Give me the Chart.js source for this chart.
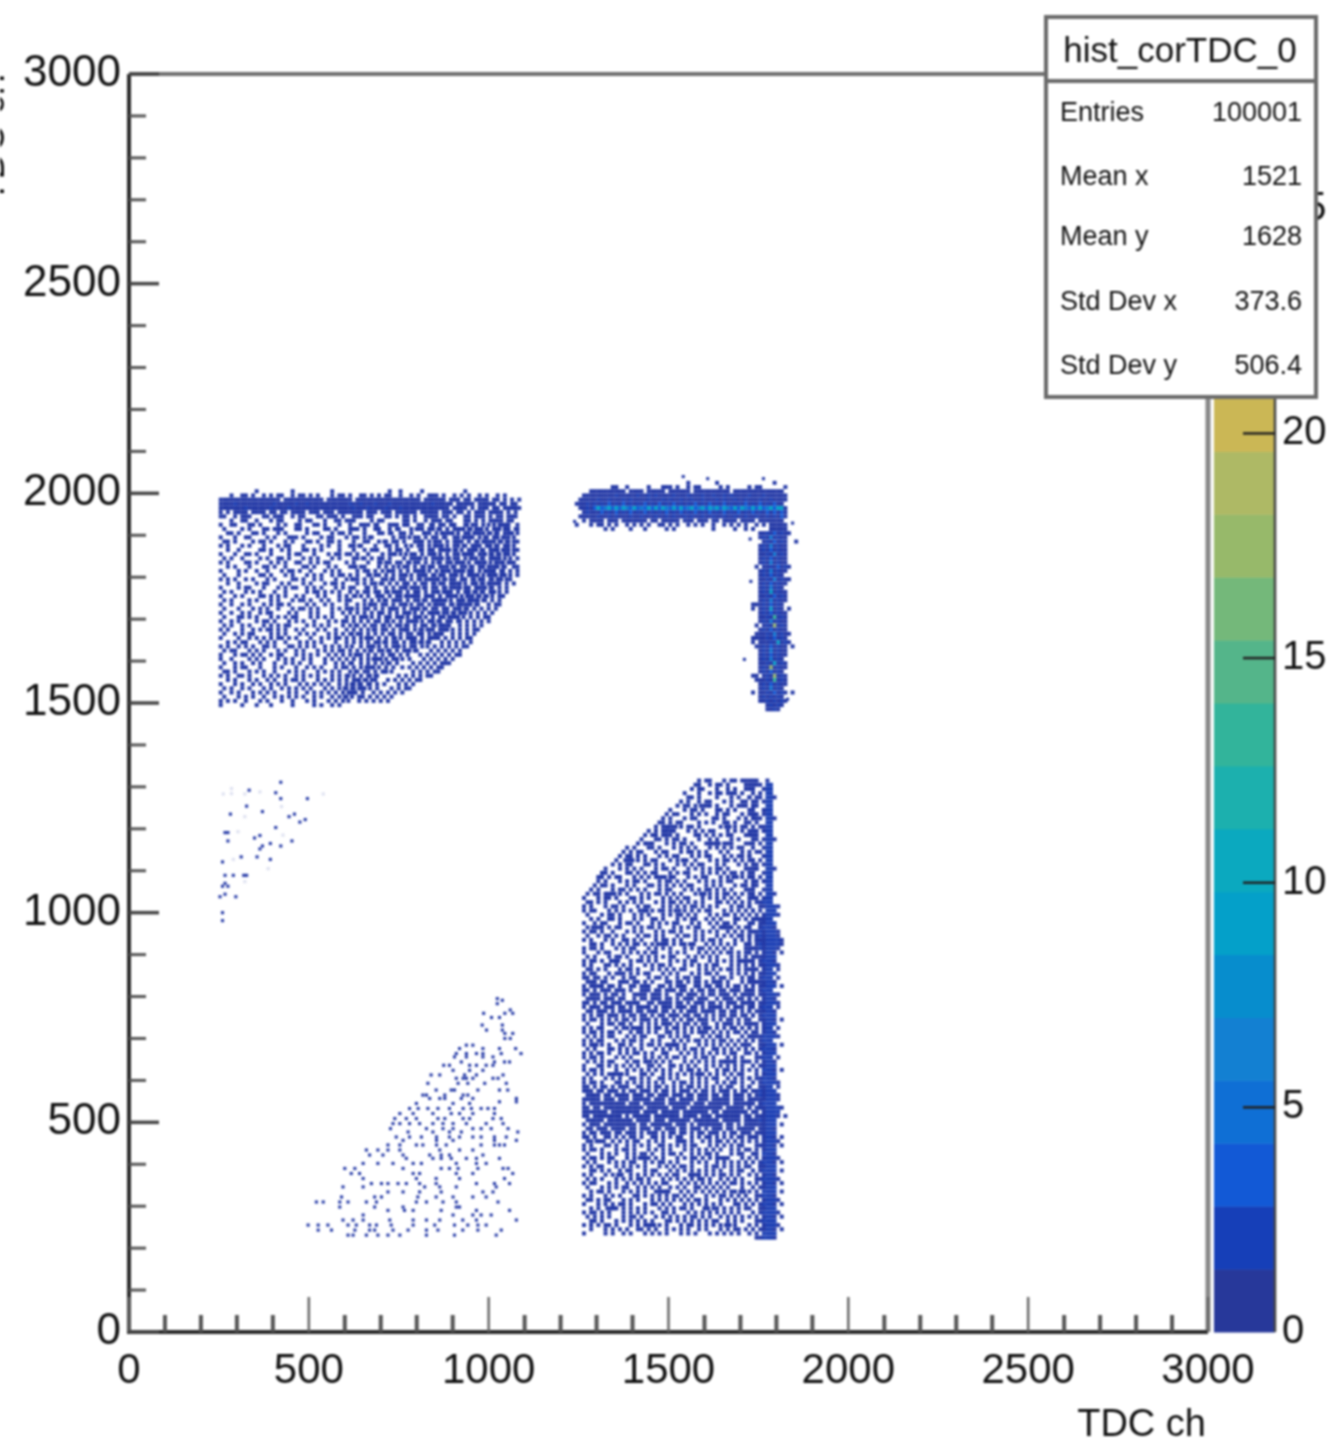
<!DOCTYPE html>
<html><head><meta charset="utf-8">
<style>html,body{margin:0;padding:0;background:#fff}canvas{display:block;filter:blur(1.1px)}</style>
<script src="https://cdn.jsdelivr.net/npm/chart.js@4"></script></head>
<body><canvas id="c" width="1339" height="1442"></canvas>
<script>
const axisMajorTicks=[0,500,1000,1500,2000,2500,3000];
const axisMinorTicks=[100,200,300,400,600,700,800,900,1100,1200,1300,1400,1600,1700,1800,1900,2100,2200,2300,2400,2600,2700,2800,2900];
const zTicks=[0,5,10,15,20,25];
const zStep=1.4;
const zPalette=['#27389a','#163fb8','#1259d6','#0f6fd5','#1380d2','#078dcd','#04a0c9','#0ba9bf','#1cb0ae','#32b49b','#54b58a','#74b87a','#97b96a','#aeb965','#cbb755','#e2b848','#f0c03c','#f5cf30','#f6e028','#f9f50f'];
const statsTitle='hist_corTDC_0';
const statsNames=['Entries','Mean x','Mean y','Std Dev x','Std Dev y'];
const statsValues=['100001','1521','1628','373.6','506.4'];
const binSize=10;

// histogram cells: each character is one 10x10 bin ('.' empty, '#' low, digits higher)
const upperLeftOrigin=[255,2005];
const upperLeftMask=[
"..........#.........#..........#...............#..#.....#...........#.........",
"...#..##.#..#.#.##..#.##.#.#...#.##.#..##.#.#.##..#..#.#..###.#..#.#.#..#.#..#.#",
"#################.###########.#######.##################.######.###.##.####.##.#.#.#",
"####2##########2#####2##2###########2##2###2###2###########2#####.#####.#####.##.##",
"#######2######2####2#################2###2####2###2#############.####.#.###.##.#####",
"#.#.####.####.##.##.####.###.###.#######.###.###.######.#####.###.##.#.###.####.#.#",
"##..#.###...##.###..#.##...##.###.#..###.##...##.#.##.#..####.##.#..##.###.#.##.###",
"...#..##..#...#.##....#.##...#..##.###....#.##.....##.#..#.###.##...##.#.#.####.##",
"#..##...##.#....#.#..##...##.#...#..#..###.#...###.##..##..#.##.##..#.##.#..#.###",
".#....#.#...##.###...##.#....##.#...###.#..##..#.#...#.##.##.#.#.###.#.##.#.##.##.#",
"..##.#...##.#...#.#.....#.##...#.##.#...#...##.#..##.#...##.#.###.#.##.###.#.#.###",
"#...#..##....#.#...###.#....#.##...#.##.#.#.....#.##..##.#.##.#..##.###.#.#.##.##",
".##.#....#.##.#...#.#...##.#..##.#...#..##..#.#.##.#..###.#.##.#.###.#.#.####.#.#",
"#.#...#.#...#...#.##...#....#.#..#..##.#...#..##.#...#.##.#.##.#.##.#.###.##.#.##.",
"..#..#.....##.#..#.#...##.#.#....#...#..#.##...#.##.#...#.##.###.#.#.###.#.###.##",
"#...#..##.#...#....#.##...#...#.##.##.#..#...#.##.#..##.#.##.#.#.##.###.##.#.#.##",
".#.#..#....#.#..##.#...#.#.#...#.#...##.#.#.##.#...#.###.#.###.#.##.#.##.#.###.#",
"#.#....##.#...#.#.#..##..#.#.##....#.#...#..#.##.##.#.##.#.#.#.##.##.#.###.#.##.#",
"..#.#...#...##.#..#....##.#...#.#...##.##...#.#.#..##.#.#.##.###.#.##.#.##.###.#",
"#....#.#..#..#...#.##.#..#...#.#.#....#.##.#.#.##.#.#.###.#.#.##.###.##.#.###.#",
".#...#.....##.#...#.#...#.#.#..#.##.#.#..#.##.#.#.##.#.###.#.##.##.#.###.#.##.##",
"#.#.#..#.#...#.#....##.#..#.#...#..#.##.#.#..##.#.##.#.#.####.#.##.##.#.##.#.##",
"..#..#....#.##...#.#...#.#...#.##.#...#.#.##.#.#.#.##.#.##.#.##.###.#.##.#.###",
"#....#.##...#...#.#.##..#.#.#...#.#.##...#.#..#.#.##.###.#.##.#.###.##.###.#",
".#.#...#.#.#...#..#.....#.##.#.#.#..#.#.##.##.#.###.#.##.#.##.###.#.##.#.#.##",
"#...#.#....##.#.#.#..#.#...#.#...#.#.#.#.#..##.#.##.####.###.#.###.#.##.#.#",
".#.#....#.#...#.#...#.##.#..#.#..#.##...#.#.#.#.###.#.##.#.####.#.##.###.#",
"#..#..#.#...#.#.##.#....#.#..#.#...#..#.#.##.##.#.##.#.##.#.###.#.####.#",
".#...#...#.#.#..#...#.##.#.#...#.#.##.#.##.#.#.###.#.###.#.##.##.##.#",
"#..#..#.#..#.##....#.#...#.#...#..#.#.#.#.#.##.#.#.##.#.#.###.##.#.##",
".#...##.#.#...#.#.#.##...#.#.#.#...#.#.##.#.#.##.##.#.##.#.#.##.###",
"#..#.#....#.##.#...#.#.#..#...#.#.##.#.#.#.##.#.#.#.###.#.##.#.##.#",
".#.#..#.#...#.#.#.##....#.#.#.#...#.#.#.#.##.#.#.##.#.#.##.#.###",
"#.#...#..#.#.##.#.#..#.#...#.#..#..#.#.#.#.#.##.#.###.#.#.##.###",
".#..#.#.##....#.#.#...#.#.#...#.#.#.#.##.#.#.#.##.#.##.##.#.##",
"#....#..#.#.#.#.##.#.#...#..#.#.##.#.#.#.##.#.#.#.#.###.#.###",
"..#.#.##...#.#.#..#...#.#.#.#...#..#.#.#.#.##.#.##.#.##.#.#",
"#.#..#.#.#..##.#...##.#.#.#..#.#.#.#...#.##.#.#.##.#.##.#",
".#.##...#.#.#...#.#..#.#...#.#.#.##.#.#.#.#.##.#.#.##.#",
"#...#.##.#.#..#.##...#.#.#.#..#.#.#.#.##.#.#.#.##.#.#",
"#..#....#.#.#...#.#.#..#.#...#.#.#.#.#.#.#.##.#.##.",
".#..#.#..#.#...#..#.#.#..#...#..#.#.#..#.#.#.#.#.#",
"#...#.##...#...#.#...#..#.#.#...#.##.#.#.##.#.#.#",
".##.#...#.#.#..#...#.#.#...#.#.#.#..#.#.##.#.##",
"#.#..##.#...#.#.#.#..#.#.#.#...#.#.#.#.#.#.#.",
"..#.#...#.#..#.#..#.##.#...#.#.#.#.#.##.#.##",
"#...#.#..#.#..#.#.#...#.#.#.#.#..#.#.#.#.#",
".#.#..#.#...#.#..#.#.#.#.#...#.#.#.#.#.##",
"#..#.#...#.#.#.#...#.#..#.#.#.#.#.#.##.",
".#...#.#.#..#..#.#.#.#.#..#.#..#.#.#.",
"#.#.#..#...#.#...#..#...#.#...#.#.#",
"#.....#...#...#.....#.....#.#..#.#"];

// extra cells of the denser right-hand part of the upper-left block, from x=600, y=1925
const upperLeftEdgeOrigin=[600,1925];
const upperLeftEdgeMask=[
".........#.......#......#.....#...#.....#..#.#..#",
"...#...........#....#.....#......#.#..#....#.#..#",
".............#........#....#..#.....#...#.#...#.#",
".......#..........#.........#....#.#...#..#.#..#.",
"...........#.........#...#.....#.....#.#...#.#.##",
"....#............#.......#.#.....#..#...#.#..#.#.",
".........#...........#.......#.#....#.#...#.#..##",
"..............#..#.......#.......#.#...#.#.#.#.#.",
".....#...............#.....#.#.....#..#..#.#..#.#",
"..........#.......#.......#....#.#...#.#..#.#.##.",
"...#...........#......#.#.....#....#..#.#.#.#..##",
"............#.........#....#.#...#.#...#.#..#.#.#",
".......#.........#.......#.....#...#.#..#.#.#.#.#",
"..#..........#.......#....#.#....#..#.#..#.#.##",
"..........#......#.......#....#.#...#.#.#..#.#.#",
"......#..........#....#.....#...#.#..#.#.#.#.#",
"............#.......#.....#.#.....#.#.#..#.#.#",
"...#.....#.......#.....#.....#.#..#..#.#.#.##",
"...........#..........#...#.#....#.#.#.#.#.#",
".......#.........#.......#....#.#..#.#..#.##",
"..#..........#......#.#.....#...#.#.#.#.#.#",
"..........#.......#.....#.#...#.#..#.#.#.#",
"......#.........#....#.......#.#.#.#.#.##",
"............#.......#...#.#.....#.#.#.#.#",
"...#.......#.....#.......#.#.#..#.#.#.#",
"........#........#...#.#....#.#.#.#.##",
"..#..........#.......#...#.#..#.#.#.#.",
"......#.......#...#.....#.#.#.#.#.##",
"...........#.......#.#.#...#.#.#.#.#",
"..#.....#......#.......#.#.#.#.#.##",
".......#....#.....#.#...#.#.#.#.#.",
"...#.........#.......#.#.#.#.#.##",
"........#.#.....#.#...#.#.#.#.#",
"..#.........#......#.#.#.#.###",
"......#.#.......#.#.#.#.#.##",
"...#.......#.#.....#.#.#.##",
".#.....#.#.....#.#.#.#.##",
"....#.#.....#.#.#.#.##",
"..#.#..#.#.#...#.#.#",
"#.#.##.#.#...#.#.##",
".#.#.#..#.#.#.#.#",
"#.#.##.#.#.#.#",
".#..#.#.#.#.#"];

const cornerHorizontalOrigin=[1245,2025];
const cornerHorizontalMask=[
"...............................#.......#...............#...",
"..........##..#.....#...###.#..#.##.....#.#.....#.##......#",
"....##########.####.#####.######.##########.##############.",
"..#########2#####2##2#2####2###2###2##2##2#2####2###2######",
".#####2##2###2#2####2###2#2##2##2##2###2#2##2##2###2##2####",
"###2#2#2#3#2#3#2#2#3#2#3#2#3#2#2#3#2#3#2#3#2#2#3#2#3#2#3##",
".##2#35345353543534353535435353453453545354353543535345355#",
"..#2###3#2#3#2#3#2#3#2#2#3#2#3#2#3#2#3#2#3#2#3#2#3#2#3#3#3#",
".#####2##2#2###2##2###2##2#2##2#2##2##2##2##2##2##2##2#2#3#",
"..#.####.###.#######.##.#####.###.###.##.####.####.#######",
"#...#.##.#.#..#.#.#.#..##.#.#..#.#.#..#..#.#.#.#..#.#.#####",
"........#.#....#...#.....#.#..........#.....#..#.#....#####"];
const cornerVerticalOrigin=[1735,1905];
const cornerVerticalMask=[
"..##2#3#2##.",
"..#2#4#2##.",
"...#2#3#2#..#",
"..#2#4#2##",
"..#2#3#2##.",
"..##2#4#2#",
"..#2#3#2##.",
"..#2#4#2##",
".#.##2#3#2#.",
"..#2#4#2##.",
"..#2#3#2#..",
"..##2#4#2##",
"..#2#3#2##.",
"..#2#4#2#..",
"..#2#5#2##.",
"..##2#3#2#.",
"..#2#4#2##.",
"###2#3#2#..",
"#.#2#5#2#.#",
"..#2#3#2##.",
"..##2#6#2#.",
"..#2#4#2##.",
".#.#2#7#2#.",
"..#2#3#2##.",
".###2#4#2##",
"####2#3#2#.",
"#.###2#5#2#.",
".##2#3#2##.#",
"..#2#4#2##.",
"..#2#3#2##.",
"..#2#4#2#..",
"..##2#5#2#.",
"..#2#7#2##.",
"..#2#3#2#..",
"##.#2#7#2#.",
".###2#6#2#.",
"..#2#3#2##.",
"..#2#4#2#..",
"#.##2#3#2#.#",
"..#2#2#2#..",
"..##2#2#2#.",
"....#2#2#.",
"....##2#.."];

const lowerRightOrigin=[1265,1315];
const lowerRightMask=[
"................................#.##...#.##.##.#",
"...............................##..#.##.#....###",
"..............................#.##...#..#.#..#.#",
"............................#...#..#.##.###.#...",
".............................##.#....#...#.#..#.#",
"...........................#.#..#.##...#.#..##.#.",
"..........................#.##.#...#.#...#.###.#.",
"........................#...#.##.#...##.#.#....#.",
".......................#.##...#.#.#..#.##...#.##.",
"......................#.#...#.##....##.#...#.#.##",
".....................##.#.##....#.#.#..##.#..#...",
"....................#.##...#.##.#.....#.#.#.##.#",
"..................#.#.####...#.#.#.##...#.#.#.#.#",
".................#.##.###.#....##.#.#.#.##...###.",
"................#...##.#.##.#...#..#.#...#.#...#.",
"...............#.#.#...#.#.##.#...##.#.###...#.#",
"............#.#...##.#...#.#.#.#...#.#.#.#.##...",
"...........#.#.##...#.##...#.##.#.#...#.#...#.#",
"..........#.##.#.#...#.#.##...#.#.##...#.#.##.#.",
".........#...#.#.#.##...#.#.#..#...#.#.##.#.#.##",
"........#.#.##...##.#.#...#.#.#.##...#.#...#.#.#",
"......#...#.#.#.#...#.##.#...#.#.#.#.##.#....#.##",
".....##.#...##.#.#.##...#.#.##...#.#.#.#.##.#.#.",
"....##.#.##...#.#.#.#.#.##...#.#.##...#.#.#.#.##",
"....#.#...#.#.##.#...#.##.#.#...#.#.#.#.##...#.#.",
"...#.##.#...#.#...##.#.#.#.#.##...#.#.#...#.##.#.",
"..#.#...#.##.#.#.#...#.##...#.#.#.##.#.#.#...#.#.",
".#.##.#...#.#...#.#.##.#.#.#...#.#.#.#.##.#.#.##",
"#...#.##.#...##.#.#...#.#.#.##...#.#.#.#.#.#...#",
".##.#.#...#.#.#.#...#.#.##.#.#.#.#...##.#.#.#.#.",
"#.#...#.##.#...#.##...#.#.#.#.##.#.#.#...#.##.#.",
"#.##...#.#.#.#...#.#.##.#...#.#.#.##...#.#.#.#.#",
".#...#.##.#...#.#.#...#.#.##.#.#...#.#.##.#.#...",
"..#.#..##.#...#.#..##.#...#.#.##..#.#.#...##.#.#",
"#..#.##...#.##.#...#.#.#.##...#.#..#.#.##.#...#.",
".#...#.#.##...#.#.##.#...#.#.#.##...#.##.#.#.##",
"#.##.#..#...#.#.#...#.#.##.#...#.#.#.#..#.#.#.#.",
".#..#.##.#.#...#.##.#.#...#.##.#.#...#.#.#.##.#",
"#.#...#.#..##.#.#...#.##.#.#...#.#.##.#...#.#.#",
"..##.#..#.#.#.##.#.#...#.#.##.#...#.#.#.#.#..##.",
"#.##.#...#.#.##...#.#.#.#...#.#.##.#.#.#.#...##",
"#...#.##...#.#.#.#.##...#.#.#...#.#.#.#.##.#.##.",
".#.#...#.##.#...#.#.#.#.##...#.#.#.#.#...#.#.#.#",
"#.##.#...#...#.##.#.#...#.#.#.##...#.#.#.#.#.##",
"#.#...##.#.#.#...#.#.##.#...#.#.#.#.##...#.#.#.#",
".##.#.#...#.##.#...#.#.#.#.##...#.#.#.#.##.#.#.#",
"#.##...#.###.#.#.##...#.#.#...#.#.##.#...#.#.#.#",
"##.##.#.#..#.##...#.##.#..#.##.##...#.##.#..#.##",
".###.##...###.##.#.#...##.##.#.##.#.###.#...#.###",
"#.####.##.#..##.###..##.#.###..##.##.##.#.##.#.#",
"##.#.###.###.#..###.##.###.##.#.##.##.##.###.##.",
"#.###.#.##.#..####.###.#..##.###.#.##.###.#.###.",
".####.###.##..#.##.###.##.#.###.###..#.###.##.#",
"##.#.##.###.####..##.####.##.#.###.##.#.###.##.#",
"#.###.###.##.#.####.#.###.###.##.#.####.#.###.##",
".##.###.#.####.##.###.##.#.#.###.####.##.##.#.#",
"#.#.##.###.#.##.##.#.##.###.##.##.#.#.##.##.##.#",
"#.##.#.#.#.##.#.###.#.##.#.#.##.###.#.#.##.#.#.",
".#...#.##.##.#..#.#.#.###.#.##.#.##..#.###.#.##.",
"#.#.##...#.##.#.#.#.##.#.##.#.#.#.##.#.#.##.#.#",
"#.##.#.##.#..#.##.#.#..##.#.#.#.###.#.#.#.##.#.#",
".#.#.#.##...#.#.##...##.#.#.##...#.#.##.#...#.##",
"#.#.##...#.#.##.#..#.#...#.#.#.##.#.#.##.#.#.#",
"#.##.#.#..##.#..#.##.#.#.##.#...#.#.#.#.#.#.##",
".#.#...##.#.#.#.#...#.#.#.#.#.##.#..##.#.#.#.#",
"#.#.##.#..#.#.##.#.#..##...#.#.#.#.#.#.#.##..#",
"#.##.#...#.#.#...#.#.#.#.##.#..#.##.#...#.#.#.",
".#.#.#.##...#.##.#..#.#.#...#.#.#.#.#.##..#.##",
"#...##.#.#.#.#.#..##.#..##.#.#.#..#.#.#.#.#.#.",
"#.##.#...#..#.#.#.#.#.#.#..#.##.#.#..#.##.#.#.",
".#.#.#.##.#.#...##.#..#.#.#.#.#..#.#.#.#.#.##",
"#.#...#.#.#..##.#.#..##.#.#...#.#.#.##..#.#.#.#",
"#.##.#...##.#.#.#.#.#.#..#.##.#.#.#..#.#.##.#.",
"##.#.##.#.###..##.#.##.#.#.#.##.#.#.#.#.##..#.#",
"###.##.###.#.##.###.#.##.#.###.#.##.#.###.#.##.",
".####.##.####.###.##.###.###.##.###.##.##.###.#",
"#####.###.###.#####.###.##.####.###.#####.###.##",
"#.##########.###.######.######.###.######.#####",
"##.##.###########.######.####.#########.#####.#",
"#######.########.####.#####.#######.##.#######.",
"##.########.#.#####.#######.####.###.#######.##",
".#####.#######.####.###.######.#######.#####.##",
"#.###.#########.##.######.###.#.#######.##.#.##",
".##.###.####.##.###.##.###.##.###.#.###.##.###.",
"#.##.###.##.###.#.###.#.##.##.#.##.###.#.##.##",
"##.#..##.#.#.##.#..##.#.#.##..#.#.##.#.#.#.##.#",
".##.#...#.#.#.##..#.#.#...#.#.#..#.#.##.#.#.#.",
"#.#...##.#..#.#.#.#..##.#.#.#.##...#.#.#.#.##.",
"#.##.#...#.##.#...#.#.#.#...#.#.#.#.#.#..#.#.#",
".#...#.#.#..#.#.##.#..#.##.#..#.#.##.#...#.##.",
"#.##.#.##...#.#.#.#.#.#...#.#.##.#.#.#.##...#.",
".#.#...#.#.#.##..#.#.##.#.#...#.#.#..#.#.#.#.#",
"#.#.##...#.#.#.#.#...#.#.#.##.#...#.##.#.#.#.#",
"..##.#.#..#.##...#.##...#.#.#.#.#.#.#.#..#.##.",
"#.#...#.#.#..#.#.#.#.#.#.##...#.#.#.#.##.#.#..",
".#.#.#...#.#.#.##.#...#.#.#.#.#.##.#..#.#.#.#.",
"#.##...#.#..#.#.#.#.#.##...#.#.#.#.#.#.#.##.#",
".#...#.#.#.##..#.#.#.#..#.#.#..##.#.#.#.#...#.",
"..#.##.#...#.#.#.#..##.#...#.#.#.#.#.#.#.##.#",
"#.#...#.#.#...##.#.#.#.#.##.#.#...#.#.##.#.#.#",
".##.#.##...#.#.#...#.#.#.#.#.#.##.#...#.#.#.#.",
"#...#.#.#.##.#...#.##.#.#...#.#.#.#.#.#...##.#",
"..#.#...##.#.#.#.#...#.#.#.##.#...#.##.#.#.#.#",
"#.##.#.#...#.#.#.#.#..##.#...#.#.#.#.#.#.#.#..",
".#.#.#.#...#.##.#...#.#.#.#.#.##.#.#..#.#.#.#",
"..##.#...#.#.#.#.#.#...##.#.#.#.#.#.##..#.#.#.",
"#.#.#.##.#...#.#.#.#.#.#...#.##.#.#.#.#.#.#...",
"..#...#.#.#.#..##.#.#..#.#.#.#..#.#...#.#.##.#",
"#.....#.#..#.#...#.#.#.#...#.#.#...#.#.#.#.#."];

// gap between the area cells and the bright band, cells from x=1725
const lowerRightGapOrigin=[1725,1315];
const lowerRightGapMask=[
"#.#..","..##.","#...#",".#.#.","#..#.","..#.#",".##..","#...#","..#.#",".#.#.",
"#.#..","...##",".#..#","#.#..","..#.#","#..#.",".#..#","..##.","#...#",".#.#.",
"..#.#","#.#..",".#..#","#..#.","..#.#",".##..","#...#",".#.#.","#.#.#","..##.",
"#..##",".#.#.","#.#.#","..###",".#.##","#..#.",".##.#","#.#.#","..###","#.#.#",
".##.#","#.#.#","..###","##.#.",".#.##","#.#.#",".#.##","##.#.","#.###",".#.##",
"##.#.",".#.##","#.#.#","##.##",".#.#.","#.###",".#.#.","#..##",".##.#","#.#.#",
"..#.#","#.##.",".#.#.","#..##",".#.#.","#.#.#","..##.","#.#.#",".#.##","#.#..",
"..#.#","#.##.",".#.#.","#..##",".##.#","#.#.#","..###","##.#.","#.###",".##.#",
"#.###","###.#",".####","##.##","#.###",".##.#","#.#.#","..###","#.#.#",".##..",
"#.#.#",".#.#.","#..##",".#.#.","#.#.#","..##.","#.#.#",".#.##","#.#..","..##.",
"#.#.#",".#.#.","#..##",".#.#.","#.#.#","..##.","#.#.#",".#.##","#.#..","..##."];

// the bright vertical band of the lower-right block, cells from x=1745
const lowerRightBandOrigin=[1745,1315];
const lowerRightBandMask=[
"...#..","...22.","...22.","...22.","...22#","...22.","...22.","..#22.","...22.","...22#",
"...22.","...22.","..#22.","...22.","...22#","...22.","...22.","...22.","..#22.","...22.",
"...22.","...22#","...22.","...22.","..#22.","...22.","...22.","...22#","..222.","..222.",
"...222#","...222.","..2222#",".#222.","..2222",".2222#",".22222#","222222#","2222222#",".222222#",
".22222#","..222#.#","..2222.","..222#.","..2222#","..222.#","..2222","..222.#","..222#.","..2222.#",
"..222..","..2222#","..222#","..2222#","..222.#","..222#.","..2222.","..222#.#","..2222","..222.#",
"..222#.","..2222#","..222.","..2222.#","..222#","..2222","..222.#","..222#.","..2222.","..222#.#",
"..2222.","..222#.","..2222#","..222.#",".22222",".22222#","..2222#",".22222.",".222222#","..22222",
"..2222#.#",".22222","..2222.#","..222#.","..2222","..222#.#","..2222#","..222#.#","..2222","..222#.",
"..2222#","..222#.#",".22222","..2222.#","..222#","..2222#","..222#.#","..2222","..2222.#","..222#",
"..2222#.","..222#.#","..2222","..2222#","..222#.#","..2222.","..2222#","..222#.#","..2222","..222#."];

// short horizontal runs that break up the area of the lower-right block
const lowerRightRuns=[[1255,1590,1600,1610],[1205,1500,1510,1520,1660,1670],[1165,1440,1450,1620,1630,1640],[1125,1380,1390,1400,1540,1550],[1085,1470,1480,1490,1680,1690],[1045,1330,1340,1350,1590,1600],[1005,1420,1430,1440,1520,1530],[965,1290,1300,1310,1650,1660,1670],[925,1470,1480,1490,1560,1570],[885,1340,1350,1360,1700,1710],[725,1400,1410,1420,1600,1610],[685,1290,1300,1500,1510,1520],[645,1440,1450,1660,1670,1680],[615,1350,1360,1370,1580,1590],[455,1300,1310,1320,1530,1540],[415,1420,1430,1440,1640,1650],[375,1360,1370,1560,1570,1580],[335,1480,1490,1500,1700,1710],[295,1330,1340,1350,1600,1610],[255,1440,1450,1460,1660,1670]];

const cornerSpeckle=[[1609,2035],[1541,2040],[1764,2035],[1845,1929],[1727,1891],[1729,1790],[1711,1604],[1831,1509],[1239,1933]];
const sparseUpperLeft=[[422,1311],[334,1292],[408,1286],[422,1272],[496,1272],[327,1254],[371,1241],[282,1235],[445,1229],[460,1235],[490,1222],[475,1216],[408,1203],[267,1191],[275,1191],[275,1171],[364,1184],[349,1178],[453,1171],[393,1165],[422,1159],[371,1159],[364,1152],[312,1133],[356,1133],[393,1127],[260,1121],[267,1089],[290,1089],[319,1089],[327,1089],[267,1070],[260,1063],[275,1063],[267,1044],[253,1038],[297,1038],[260,1000],[260,981]];
const faintUpperLeft=[[285,1296],[285,1284],[262,1283],[322,1283],[364,1288],[540,1283],[424,1253],[322,1229],[303,1193],[428,1185],[290,1127],[387,1105],[322,1074]];
// rows: [y, x, x, x ...]
const triangleRows=[
[795,1024],[791,1038],[783,1024],[768,1060],[760,986,1045,1067],[750,1008,1030],[732,982,1038],[720,994,1038],[712,1045,1067],[700,1045,1060],[684,938,956],[676,919,984,1030,1075],[664,910,938,966,984,1035,1090],[656,905,938,984,1012],[644,924,1016,1044,1058],[636,875,891,947,966,993,1012],[624,901,947,984],[613,840,864,933,966,1040],[605,910,929,938,956,1012,1026],[593,831,915,942,989,1049],[577,854,896,905,970,1030,1053],[565,817,827,878,929,942],[557,836,864,878,924,956,1077],[549,1030,1077],[545,799,901,947],[533,780,804,831,859,891,929,952,979,998,1016],[521,753,790,845,896,919,956,1016],[509,739,771,799,859,878,929,947,1012,1035],[497,734,753,780,808,845,873,901,938,993,1040],[485,727,827,873,901,956,979,1007,1054],[477,776,845,891,924,1081],[465,743,780,813,855,891,919,956,979,1016,1049],[457,762,855,901,1016,1077],[446,720,753,799,817,855,882,979,1016,1030,1044],[434,660,692,720,753,864,919,956],[422,669,706,762,836,868,891,984],[414,771,845,868,896,938,966,1030],[402,651,692,734,790,813,910,966,993],[390,600,628,762,868,891,915,970,1040,1054],[378,618,641,790,808,910,956,1067],[366,651,799,854,919,1044],[354,674,702,720,748,771,808,854,966,1016,1058],[346,595,651,822,864,910,1021],[334,720,762,808,868,984,1012],[322,591,683,702,803,854,901,956,993],[310,521,540,586,609,660,688,799,827,873,910,1026],[298,586,683,762,910,919],[290,720,766,790,868,966,1058],[279,651,901,956,979,1007],[267,595,623,651,725,790,827,864,928,966,1077],[255,498,526,553,609,632,669,688,729,790,850,905,942,970,993],[243,526,563,628,669,683,734,776,827,859,928,970,1035],[231,609,623,660,692,720,753,827,905,1021]];

const levelColours={'#':'#2439a6','2':'#1c3fb4','3':'#1259d6','4':'#0f78d2','5':'#04a0c9','6':'#32b49b','7':'#97b96a'};
const pts=a=>a.map(([x,y])=>({x,y}));
const rows=r=>r.flatMap(([y,...xs])=>xs.map(x=>({x,y})));
const cells=(mask,[x0,y0],lv)=>mask.flatMap((row,j)=>[...row].flatMap((c,i)=>c===lv?[{x:x0+i*binSize,y:y0-j*binSize}]:[]));
const dots=(d,c,r,o)=>({type:'scatter',data:d,showLine:false,backgroundColor:c,borderWidth:0,pointStyle:'rect',pointRadius:r,order:o});
const masks=[[upperLeftMask,upperLeftOrigin],[upperLeftEdgeMask,upperLeftEdgeOrigin],[lowerRightMask,lowerRightOrigin],[lowerRightGapMask,lowerRightGapOrigin],[lowerRightBandMask,lowerRightBandOrigin],[cornerHorizontalMask,cornerHorizontalOrigin],[cornerVerticalMask,cornerVerticalOrigin]];
const levels=Object.keys(levelColours);
const datasets=[
 ...levels.map((lv,k)=>dots(masks.flatMap(([m,o])=>cells(m,o,lv)),levelColours[lv],2.8,10-k)),
 dots(rows(lowerRightRuns),'#2439a6',2.8,11),
 dots(rows(triangleRows),'#2439a6',2.2,11),
 dots(pts(sparseUpperLeft),'#2439a6',2.2,11),
 dots(pts(cornerSpeckle),'#2439a6',2.2,11),
 dots(pts(faintUpperLeft),'#dfe2f1',2.3,12)
];

const frameAndBar={id:'frameAndBar',
 beforeDatasetsDraw(ch){
  const {ctx,scales:{z}}=ch;
  zPalette.forEach((col,i)=>{
    const yA=z.getPixelForValue(i*zStep), yB=z.getPixelForValue(Math.min((i+1)*zStep,z.max));
    ctx.fillStyle=col; ctx.fillRect(z.left+6,yB,61,yA-yB+0.5);
  });
 },
 afterDatasetsDraw(ch){
  const {ctx,chartArea:a,scales:{x,y,z}}=ch;
  ctx.save();
  ctx.strokeStyle='#707070'; ctx.lineWidth=4;
  ctx.beginPath();ctx.moveTo(a.left,a.top);ctx.lineTo(a.right,a.top);ctx.stroke();
  ctx.strokeStyle='#888'; ctx.lineWidth=5;
  ctx.beginPath();ctx.moveTo(a.right,a.top);ctx.lineTo(a.right,a.bottom);ctx.stroke();
  ctx.strokeStyle='#2a2a2a'; ctx.lineWidth=4;
  ctx.beginPath();ctx.moveTo(a.left,a.top);ctx.lineTo(a.left,a.bottom);ctx.lineTo(a.right,a.bottom);ctx.stroke();
  const tx=(v,l,w,c)=>{ctx.strokeStyle=c;ctx.lineWidth=w;const p=x.getPixelForValue(v);ctx.beginPath();ctx.moveTo(p,a.bottom);ctx.lineTo(p,a.bottom-l);ctx.stroke();};
  const ty=(v,l,w,c)=>{ctx.strokeStyle=c;ctx.lineWidth=w;const p=y.getPixelForValue(v);ctx.beginPath();ctx.moveTo(a.left,p);ctx.lineTo(a.left+l,p);ctx.stroke();};
  axisMinorTicks.forEach(v=>{tx(v,17,4,'#555');ty(v,17,3,'#555');});
  axisMajorTicks.forEach(v=>{tx(v,35,2.5,'#666');ty(v,30,3.5,'#444');});
  const barR=z.left+67;
  ctx.strokeStyle='#444';ctx.lineWidth=2.5;
  ctx.beginPath();ctx.moveTo(barR,a.top);ctx.lineTo(barR,a.bottom);ctx.stroke();
  ctx.strokeStyle='#222';
  zTicks.filter(v=>v>0).forEach(v=>{const p=z.getPixelForValue(v);ctx.beginPath();ctx.moveTo(barR,p);ctx.lineTo(barR-32,p);ctx.stroke();});
  ctx.restore();
 },
 afterDraw(ch){
  const {ctx}=ch;
  ctx.save();
  ctx.fillStyle='#111';
  ctx.font='38px "Liberation Sans"';ctx.textAlign='right';ctx.textBaseline='alphabetic';
  ctx.fillText('TDC ch',1206,1436);
  ctx.save();ctx.translate(4,74);ctx.rotate(-Math.PI/2);ctx.fillText('TDC ch',0,0);ctx.restore();
  ctx.fillStyle='#fff';ctx.fillRect(1046,17,270,380);
  ctx.strokeStyle='#6a6a6a';ctx.lineWidth=4;ctx.strokeRect(1046,17,270,380);
  ctx.beginPath();ctx.moveTo(1046,81);ctx.lineTo(1316,81);ctx.stroke();
  ctx.fillStyle='#111';
  ctx.font='35px "Liberation Sans"';ctx.textAlign='center';ctx.textBaseline='middle';
  ctx.fillText(statsTitle,1180,52);
  ctx.font='27px "Liberation Sans"';
  const ys=[114,178,238,303,367];
  statsNames.forEach((s,i)=>{ctx.textAlign='left';ctx.fillText(s,1060,ys[i]);ctx.textAlign='right';ctx.fillText(statsValues[i],1302,ys[i]);});
  ctx.restore();
 }
};

const plain=v=>String(v);
const useTicks=list=>s=>{s.ticks=list.map(value=>({value}));};
const noPad=s=>{s.paddingTop=0;s.paddingBottom=0;};
new Chart(document.getElementById('c'),{
 type:'scatter',
 data:{datasets},
 plugins:[frameAndBar],
 options:{
  responsive:false,animation:false,
  layout:{padding:{top:74,left:0,right:0,bottom:0}},
  plugins:{legend:{display:false},tooltip:{enabled:false}},
  scales:{
   x:{type:'linear',min:0,max:3000,position:'bottom',
      grid:{display:false,drawTicks:false},border:{display:false},
      ticks:{font:{family:'"Liberation Sans"',size:42},color:'#111',padding:14,maxRotation:0,autoSkip:false,callback:plain},
      afterBuildTicks:useTicks(axisMajorTicks),
      afterFit(s){s.height=110;}},
   y:{type:'linear',min:0,max:3000,position:'left',
      grid:{display:false,drawTicks:false},border:{display:false},
      ticks:{font:{family:'"Liberation Sans"',size:44},color:'#111',padding:8,autoSkip:false,callback:plain},
      afterBuildTicks:useTicks(axisMajorTicks),
      afterFit(s){s.width=129;noPad(s);}},
   z:{type:'linear',min:0,max:28,position:'right',
      grid:{display:false,drawTicks:false},border:{display:false},
      ticks:{font:{family:'"Liberation Sans"',size:40},color:'#111',padding:74,autoSkip:false,callback:plain},
      afterBuildTicks:useTicks(zTicks),
      afterFit(s){s.width=131;noPad(s);}}
  }
 }
});
</script></body></html>
